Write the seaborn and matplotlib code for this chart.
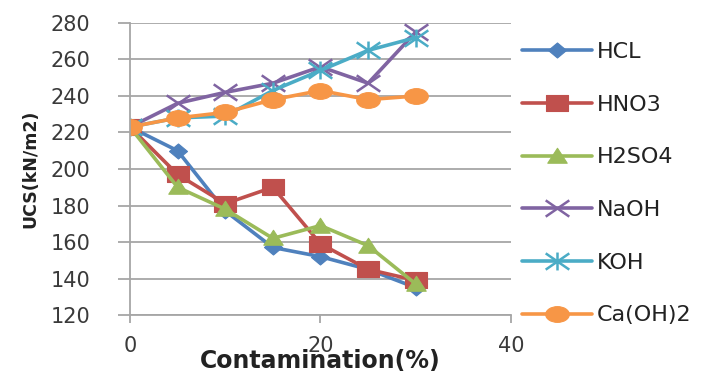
import numpy as np
import pandas as pd
import matplotlib
matplotlib.use("Agg")
import matplotlib.pyplot as plt
from matplotlib.path import Path
from matplotlib.transforms import Affine2D
import seaborn as sns

# Contamination levels (%) and unconfined compressive strength (kN/m2)
contamination = [0, 5, 10, 15, 20, 25, 30]
hcl = [223, 210, 177, 157, 152, 145, 135]
hno3 = [223, 197, 181, 190, 159, 145, 139]
h2so4 = [223, 190, 178, 162, 169, 158, 137]
naoh = [223, 236, 242, 247, 256, 247, 275]
koh = [223, 228, 229, 243, 254, 265, 272]
caoh2 = [223, 228, 231, 238, 243, 238, 240]

series_names = ["HCL", "HNO3", "H2SO4", "NaOH", "KOH", "Ca(OH)2"]
series_values = [hcl, hno3, h2so4, naoh, koh, caoh2]
colors = ["#4F81BD", "#C0504D", "#9BBB59", "#8064A2", "#4BACC6", "#F79646"]

y_ticks = [120, 140, 160, 180, 200, 220, 240, 260, 280]
x_ticks = [0, 20, 40]

df = pd.DataFrame({
    "Contamination": np.tile(contamination, len(series_names)),
    "UCS": np.concatenate(series_values),
    "Series": np.repeat(series_names, len(contamination)),
})

# Wide marker shapes
diamond = Path([(0, -1), (1.2, 0), (0, 1), (-1.2, 0), (0, -1)], closed=True)
square = Path([(-1.4, -1), (1.4, -1), (1.4, 1), (-1.4, 1), (-1.4, -1)], closed=True)
triangle = Path([(-1.3, -0.9), (1.3, -0.9), (0, 1.1), (-1.3, -0.9)], closed=True)
cross = Path([(-1.45, -1), (1.45, 1), (-1.45, 1), (1.45, -1)],
             [Path.MOVETO, Path.LINETO, Path.MOVETO, Path.LINETO])
star = Path([(-1.45, -1), (1.45, 1), (-1.45, 1), (1.45, -1), (0, -1.1), (0, 1.1)],
            [Path.MOVETO, Path.LINETO, Path.MOVETO, Path.LINETO, Path.MOVETO, Path.LINETO])
ellipse = Path.unit_circle().transformed(Affine2D().scale(1.5, 1.0))

marker_specs = {
    "HCL": dict(marker=diamond, markersize=13, filled=True),
    "HNO3": dict(marker=square, markersize=16, filled=True),
    "H2SO4": dict(marker=triangle, markersize=14, filled=True),
    "NaOH": dict(marker=cross, markersize=17, filled=False),
    "KOH": dict(marker=star, markersize=17, filled=False),
    "Ca(OH)2": dict(marker=ellipse, markersize=17, filled=True),
}

sns.set_style("white")
plt.rcParams["font.family"] = ["DejaVu Sans"]

fig = plt.figure(figsize=(7.11, 3.72), dpi=100)
ax = fig.add_axes([0.1828, 0.1532, 0.5359, 0.785])

for name, color in zip(series_names, colors):
    spec = marker_specs[name]
    sub = df[df["Series"] == name]
    kws = dict(marker=spec["marker"], markersize=spec["markersize"],
               markeredgecolor=color, color=color, linewidth=2.6)
    if spec["filled"]:
        kws.update(markerfacecolor=color, markeredgewidth=0.8)
    else:
        kws.update(markerfacecolor="none", markeredgewidth=1.8)
    sns.lineplot(data=sub, x="Contamination", y="UCS", ax=ax, label=name,
                 estimator=None, sort=False, **kws)

ax.set_xlim(0, 40)
ax.set_ylim(120, 280)
ax.set_xticks(x_ticks)
ax.set_yticks(y_ticks)

grid_color = "#A6A6A6"
ax.yaxis.grid(True, color=grid_color, linewidth=1.3)
ax.xaxis.grid(False)
ax.set_axisbelow(True)
for side in ["top", "right"]:
    ax.spines[side].set_visible(False)
for side in ["left", "bottom"]:
    ax.spines[side].set_color(grid_color)
    ax.spines[side].set_linewidth(1.3)

ax.tick_params(axis="y", direction="out", length=8.5, width=1.3, color=grid_color,
               pad=20, labelsize=15, labelcolor="#3a3a3a", left=True)
ax.tick_params(axis="x", direction="out", length=6, width=1.3, color=grid_color,
               pad=9, labelsize=15, labelcolor="#3a3a3a", bottom=True)

ax.set_xlabel("Contamination(%)", fontsize=17, fontweight="bold", color="#222222",
              va="center")
ax.xaxis.set_label_coords(0.5, -0.157)
ax.set_ylabel("UCS(kN/m2)", fontsize=12.5, fontweight="bold", color="#222222",
              va="center")
ax.yaxis.set_label_coords(-0.262, 0.5)

handles, labels = ax.get_legend_handles_labels()
ax.legend(handles, labels, loc="upper left", bbox_to_anchor=(522 / 711, 1 - 42 / 372),
          bbox_transform=fig.transFigure, frameon=False, fontsize=16,
          handlelength=3.15, handletextpad=0.22, labelspacing=1.47,
          borderpad=0, borderaxespad=0, labelcolor="#222222")

fig.savefig("out.png", dpi=100)
